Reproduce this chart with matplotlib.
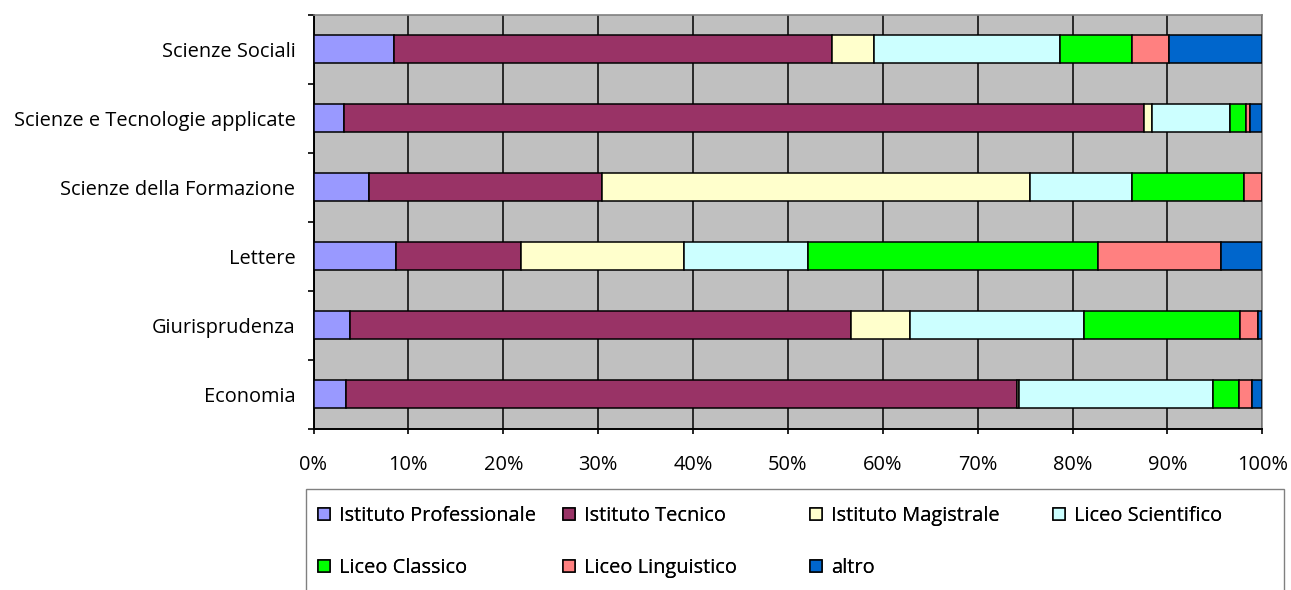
import matplotlib
matplotlib.use("Agg")
import matplotlib.pyplot as plt
import numpy as np
from matplotlib.patches import Rectangle

plt.rcParams['font.family'] = ['Open Sans', 'DejaVu Sans']

categories = ["Economia", "Giurisprudenza", "Lettere", "Scienze della Formazione",
              "Scienze e Tecnologie applicate", "Scienze Sociali"]
series_names = ["Istituto Professionale", "Istituto Tecnico", "Istituto Magistrale",
                "Liceo Scientifico", "Liceo Classico", "Liceo Linguistico", "altro"]
istituto_professionale = [3.4, 3.8, 8.7, 5.9, 3.2, 8.5]
istituto_tecnico       = [70.7, 52.8, 13.1, 24.5, 84.35, 46.2]
istituto_magistrale    = [0.2, 6.3, 17.2, 45.1, 0.85, 4.4]
liceo_scientifico      = [20.4, 18.3, 13.1, 10.8, 8.2, 19.6]
liceo_classico         = [2.7, 16.4, 30.5, 11.8, 1.7, 7.6]
liceo_linguistico      = [1.4, 1.9, 12.9, 1.9, 0.4, 3.9]
altro                  = [1.1, 0.5, 4.4, 0.0, 1.3, 9.85]
colors = ["#9999FF", "#993366", "#FFFFCC", "#CCFFFF", "#00FF00", "#FF8080", "#0066CC"]
xtick_labels = ["0%", "10%", "20%", "30%", "40%", "50%", "60%", "70%", "80%", "90%", "100%"]

series = [istituto_professionale, istituto_tecnico, istituto_magistrale,
          liceo_scientifico, liceo_classico, liceo_linguistico, altro]
data = np.array(series, dtype=float)
data = data / data.sum(axis=0)

FS = 14.4
W, H = 1291, 590
fig = plt.figure(figsize=(W / 100, H / 100), dpi=100)
ax = fig.add_axes([313.5 / W, 1 - 428.7 / H, (1262.3 - 313.5) / W, (428.7 - 14.7) / H])
ax.set_facecolor("#C0C0C0")

y = np.arange(len(categories))
left = np.zeros(len(categories))
handles = []
for vals, col, name in zip(data, colors, series_names):
    b = ax.barh(y, vals, left=left, height=0.41, color=col, edgecolor="black",
                linewidth=1.1, label=name, zorder=3)
    handles.append(b)
    left += vals

ax.set_xlim(0, 1)
ax.set_ylim(-0.5, len(categories) - 0.5)
ax.set_xticks(np.linspace(0, 1, 11))
ax.set_xticklabels(xtick_labels)
ax.grid(axis="x", color="black", linewidth=1.1, zorder=1)
ax.set_axisbelow(True)

ax.set_yticks(np.arange(-0.5, len(categories), 1))
ax.set_yticklabels([])
ax.set_yticks(y, minor=True)
ax.set_yticklabels(categories, minor=True)
ax.tick_params(axis="y", which="major", length=4.5, width=1.2, direction="out", color="black")
ax.tick_params(axis="y", which="minor", length=0, pad=13, labelsize=FS, colors="black")
ax.tick_params(axis="x", length=3.8, width=1.2, direction="out", pad=15, labelsize=FS)

for s in ["left", "bottom"]:
    ax.spines[s].set_color("black")
    ax.spines[s].set_linewidth(1.4)
for s in ["top", "right"]:
    ax.spines[s].set_color("#808080")
    ax.spines[s].set_linewidth(1.2)

# legend frame
fig.patches.append(Rectangle((306 / W, -0.05), (1284 - 306) / W, (590 - 489) / H + 0.05,
                             transform=fig.transFigure, facecolor="none",
                             edgecolor="#808080", linewidth=1.0, zorder=0))

# legend entries placed like the original grid (4 columns x 2 rows)
col_x = [318, 563, 810, 1053]
row_y = [516, 568]
for i, (h, name) in enumerate(zip(handles, series_names)):
    r, c = divmod(i, 4)
    leg = fig.legend([h], [name], loc="center left",
                     bbox_to_anchor=(col_x[c] / W, 1 - row_y[r] / H),
                     frameon=False, borderpad=0, borderaxespad=0,
                     handlelength=0.6, handleheight=0.6, handletextpad=0.45,
                     fontsize=FS)
    fig.add_artist(leg)

fig.savefig("out.png", dpi=100)
